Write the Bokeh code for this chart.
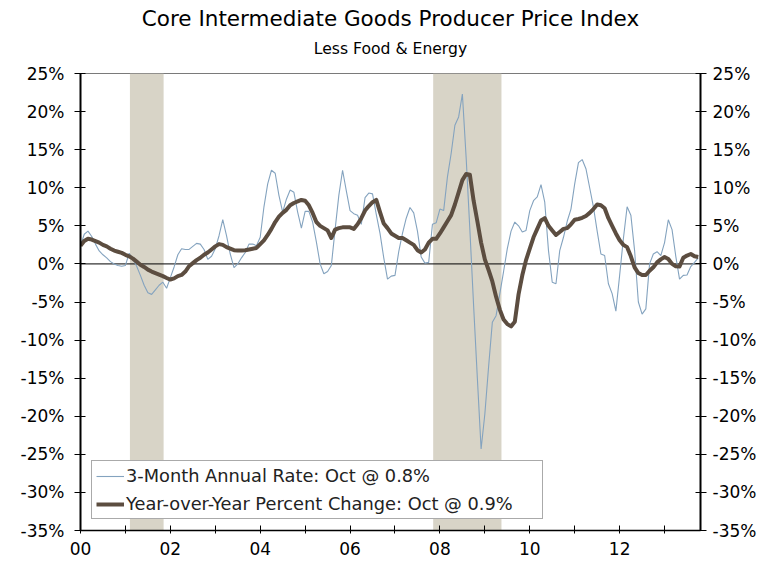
from bokeh.plotting import figure
from bokeh.models import (FixedTicker, PrintfTickFormatter, LinearAxis, Span,
                          BoxAnnotation, Legend, LegendItem, Title, Range1d)
from bokeh.embed import file_html
from bokeh.resources import INLINE

# ---------------- data (monthly, Jan 2000 - Oct 2013) ----------------
start_year = 2000
three_month_rate = [
    2.4, 3.9, 4.3, 3.6, 2.6, 1.7, 1.2, 0.8, 0.3, 0.0, -0.2, -0.3,          # 2000
    -0.2, 1.4, 0.6, -0.3, -1.5, -2.8, -3.8, -4.0, -3.4, -2.8, -2.4, -3.2,  # 2001
    -1.8, -0.4, 1.2, 2.0, 1.9, 1.9, 2.3, 2.7, 2.6, 1.9, 0.6, 1.0,          # 2002
    2.0, 3.7, 5.8, 3.7, 1.3, -0.5, 0.0, 0.8, 1.5, 2.6, 2.6, 2.4,           # 2003
    3.5, 7.5, 10.5, 12.3, 11.9, 9.0, 6.8, 8.5, 9.7, 9.4, 6.8, 4.7,         # 2004
    6.9, 6.9, 5.5, 2.9, 0.0, -1.3, -1.0, -0.2, 4.5, 9.0, 12.3, 9.6,        # 2005
    7.0, 6.6, 6.4, 5.2, 8.7, 9.3, 9.2, 6.5, 4.0, 0.8, -2.0, -1.6,          # 2006
    -1.5, 1.6, 4.0, 6.0, 7.4, 6.7, 4.3, 0.9, 0.1, 0.2, 5.2, 5.4,           # 2007
    7.2, 7.0, 11.4, 14.5, 18.2, 19.3, 22.3, 14.0, 4.5, -5.5, -15.0, -24.3, # 2008
    -19.7, -13.5, -7.65, -6.8, -3.9, -1.0, 2.0, 4.3, 5.5, 5.0, 4.2, 4.4,   # 2009
    7.0, 8.3, 8.8, 10.4, 8.1, 1.75, -2.4, -2.6, 1.75, 3.5, 5.6, 7.2,       # 2010
    10.5, 13.3, 13.7, 12.5, 10.0, 7.5, 4.3, 1.3, 1.1, -2.6, -3.9, -6.2,    # 2011
    -1.5, 3.3, 7.5, 6.4, 1.75, -5.0, -6.6, -5.9, 0.0, 1.3, 1.6, 1.1,       # 2012
    2.8, 5.8, 4.5, 1.0, -2.0, -1.5, -1.45, -0.35, 0.2, 0.8,                # 2013
]
yoy_change = [
    2.4, 3.0, 3.3, 3.2, 3.0, 2.8, 2.5, 2.3, 2.0, 1.75, 1.6, 1.45,          # 2000
    1.2, 1.0, 0.7, 0.3, -0.1, -0.4, -0.75, -1.0, -1.2, -1.4, -1.6, -1.85,  # 2001
    -2.05, -1.9, -1.6, -1.45, -1.0, -0.3, 0.1, 0.5, 0.8, 1.2, 1.5, 1.9,    # 2002
    2.3, 2.6, 2.5, 2.2, 2.0, 1.8, 1.75, 1.75, 1.8, 1.9, 2.0, 2.1,          # 2003
    2.6, 3.1, 3.8, 4.6, 5.5, 6.2, 6.7, 7.1, 7.7, 8.0, 8.2, 8.4,            # 2004
    8.3, 7.7, 6.7, 5.5, 5.0, 4.7, 4.4, 3.4, 4.5, 4.7, 4.8, 4.8,            # 2005
    4.8, 4.6, 5.2, 6.0, 7.0, 7.6, 8.1, 8.4, 6.8, 5.3, 4.7, 4.0,            # 2006
    3.7, 3.4, 3.4, 3.1, 2.8, 2.5, 1.8, 1.5, 1.9, 2.8, 3.3, 3.3,            # 2007
    4.0, 4.8, 5.6, 6.4, 7.8, 9.4, 11.0, 11.8, 11.7, 8.3, 5.6, 2.8,         # 2008
    0.6, -0.8, -2.3, -4.3, -6.0, -7.3, -7.9, -8.2, -7.6, -4.0, -1.5, 0.5,  # 2009
    2.0, 3.5, 4.6, 5.7, 6.0, 5.0, 4.4, 3.8, 4.2, 4.6, 4.7, 5.2,            # 2010
    5.8, 5.9, 6.05, 6.3, 6.7, 7.2, 7.8, 7.7, 7.3, 6.0, 5.0, 4.0,           # 2011
    3.1, 2.5, 2.2, 1.0, -0.45, -1.2, -1.45, -1.45, -0.9, -0.45, 0.2, 0.6,  # 2012
    0.9, 0.65, 0.0, -0.3, -0.35, 0.8, 1.1, 1.3, 1.0, 0.9,                  # 2013
]
months = [start_year + i / 12 for i in range(len(yoy_change))]

recession_start = [2001.10, 2007.85]
recession_end = [2001.85, 2009.37]

y_ticks = list(range(-35, 30, 5))
x_ticks = list(range(2000, 2014))
x_tick_labels = {yr: (f"{yr % 100:02d}" if yr % 2 == 0 else "") for yr in x_ticks}

legend_labels = ["3-Month Annual Rate: Oct @ 0.8%",
                 "Year-over-Year Percent Change: Oct @ 0.9%"]
title_text = "Core Intermediate Goods Producer Price Index"
subtitle_text = "Less Food & Energy"

# ---------------- figure ----------------
FONT = "DejaVu Sans"
p = figure(width=773, height=561, x_range=Range1d(2000, 2013.80),
           y_range=Range1d(-35, 25), output_backend="svg", toolbar_location=None,
           min_border_left=80, min_border_right=73, min_border_top=73,
           min_border_bottom=31, title=None)
p.xgrid.visible = False
p.ygrid.visible = False
p.outline_line_color = "#7a7a7a"
p.outline_line_width = 1
p.background_fill_color = "white"
p.border_fill_color = "white"

for s, e in zip(recession_start, recession_end):
    p.add_layout(BoxAnnotation(left=s, right=e, fill_color="#d8d4c7", fill_alpha=1.0,
                               line_alpha=0, level="underlay"))

p.add_layout(Span(location=0, dimension="width", line_color="black",
                  line_width=1, level="underlay"))

r1 = p.line(months, three_month_rate, line_color="#84a3bf", line_width=1.1)
r2 = p.line(months, yoy_change, line_color="#5c4d40", line_width=4,
            line_join="round")

# axes
xa = p.xaxis[0]
xa.ticker = FixedTicker(ticks=x_ticks, minor_ticks=[])
xa.major_label_overrides = x_tick_labels
xa.major_tick_in = 5
xa.major_tick_out = 3
xa.major_label_standoff = 8
xa.axis_line_color = "black"
xa.axis_line_width = 1.5
xa.major_tick_line_color = "black"
xa.major_label_text_font = FONT
xa.major_label_text_font_size = "17px"
xa.major_label_text_color = "black"

ya = p.yaxis[0]
ry = LinearAxis()
p.add_layout(ry, "right")
for ax, st in ((ya, 10), (ry, 6)):
    ax.ticker = FixedTicker(ticks=y_ticks, minor_ticks=[])
    ax.formatter = PrintfTickFormatter(format="%d%%")
    ax.major_tick_in = 5
    ax.major_tick_out = 6
    ax.major_label_standoff = st
    ax.axis_line_color = "black"
    ax.axis_line_width = 2
    ax.major_tick_line_color = "black"
    ax.major_label_text_font = FONT
    ax.major_label_text_font_size = "17px"
    ax.major_label_text_color = "black"

legend = Legend(items=[LegendItem(label=legend_labels[0], renderers=[r1]),
                       LegendItem(label=legend_labels[1], renderers=[r2])],
                location=(11, 11), orientation="vertical",
                label_text_font=FONT, label_text_font_size="17.8px",
                label_text_color="#222222",
                glyph_width=28, glyph_height=20, label_height=20,
                label_standoff=2, padding=4, spacing=7, margin=0,
                label_width=412,
                border_line_color="#555555", border_line_width=1,
                background_fill_color="white", background_fill_alpha=1.0)
p.add_layout(legend)

p.add_layout(Title(text=subtitle_text, align="center", text_font=FONT,
                   text_font_size="15.6px", text_font_style="normal",
                   text_color="black", standoff=32), "above")
p.add_layout(Title(text=title_text, align="center", text_font=FONT,
                   text_font_size="21.5px", text_font_style="normal",
                   text_color="black", standoff=-18), "above")

open("out.html", "w").write(file_html(p, INLINE))
